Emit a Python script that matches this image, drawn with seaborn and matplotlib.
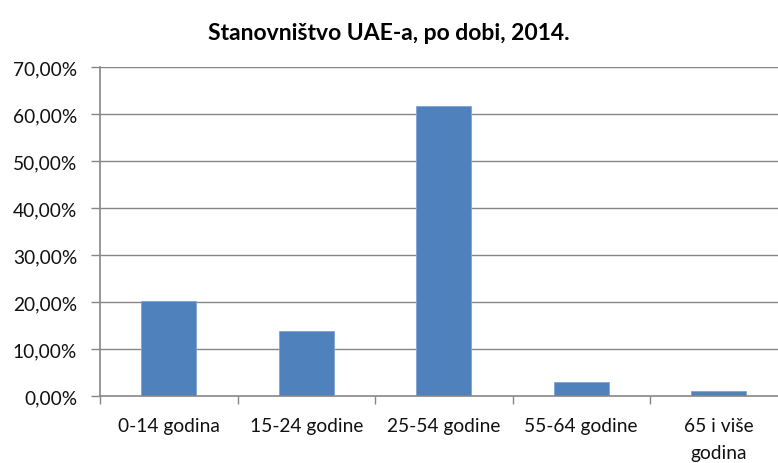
import matplotlib
matplotlib.use("Agg")
import matplotlib.pyplot as plt
from matplotlib.ticker import FixedLocator, FuncFormatter
import seaborn as sns
import pandas as pd

categories = ["0-14 godina", "15-24 godine", "25-54 godine", "55-64 godine", "65 i više\ngodina"]
values = [20.3, 13.8, 61.8, 3.0, 1.0]
title = "Stanovništvo UAE-a, po dobi, 2014."

sns.set_theme(style="white")
plt.rcParams["font.family"] = ["Lato", "DejaVu Sans"]

df = pd.DataFrame({"dob": categories, "udio": values})

fig = plt.figure(figsize=(7.78, 4.64), dpi=100)
ax = fig.add_axes([100/778, (464-397)/464, 1 - 100/778, (397-68)/464])

grid_c = "#868686"
for v in range(10, 71, 10):
    ax.axhline(v, color=grid_c, lw=1.0, zorder=0)

sns.barplot(data=df, x="dob", y="udio", color="#4F81BD", width=0.4,
            edgecolor="#7FA3D3", linewidth=0.6, saturation=1, ax=ax, zorder=2)

ax.set_ylim(0, 70)
ax.set_xlim(-0.5, -0.5 + 678/137.5)
ax.set_yticks(range(0, 71, 10))
ax.yaxis.set_major_formatter(FuncFormatter(lambda v, p: f"{v:.2f}".replace(".", ",") + "%"))
ax.tick_params(axis="y", left=True, length=6.5, color=grid_c, width=1, labelsize=13.8, pad=10,
               labelcolor="#111111")
ax.tick_params(axis="x", which="major", length=0, labelsize=13.8, pad=15, labelcolor="#111111")
for lbl in ax.get_xticklabels():
    lbl.set_linespacing(1.75)
ax.xaxis.set_minor_locator(FixedLocator([-0.5, 0.5, 1.5, 2.5, 3.5]))
ax.tick_params(axis="x", which="minor", bottom=True, length=6, color=grid_c, width=1)
ax.set_xlabel("")
ax.set_ylabel("")
for s in ["top", "right"]:
    ax.spines[s].set_visible(False)
for s in ["left", "bottom"]:
    ax.spines[s].set_color(grid_c)
    ax.spines[s].set_linewidth(1.2)

fig.text(0.5, 1 - 33/464, title, ha="center", va="center", fontsize=16.5, fontweight="bold",
         color="#000000")

fig.savefig("out.png", dpi=100)
